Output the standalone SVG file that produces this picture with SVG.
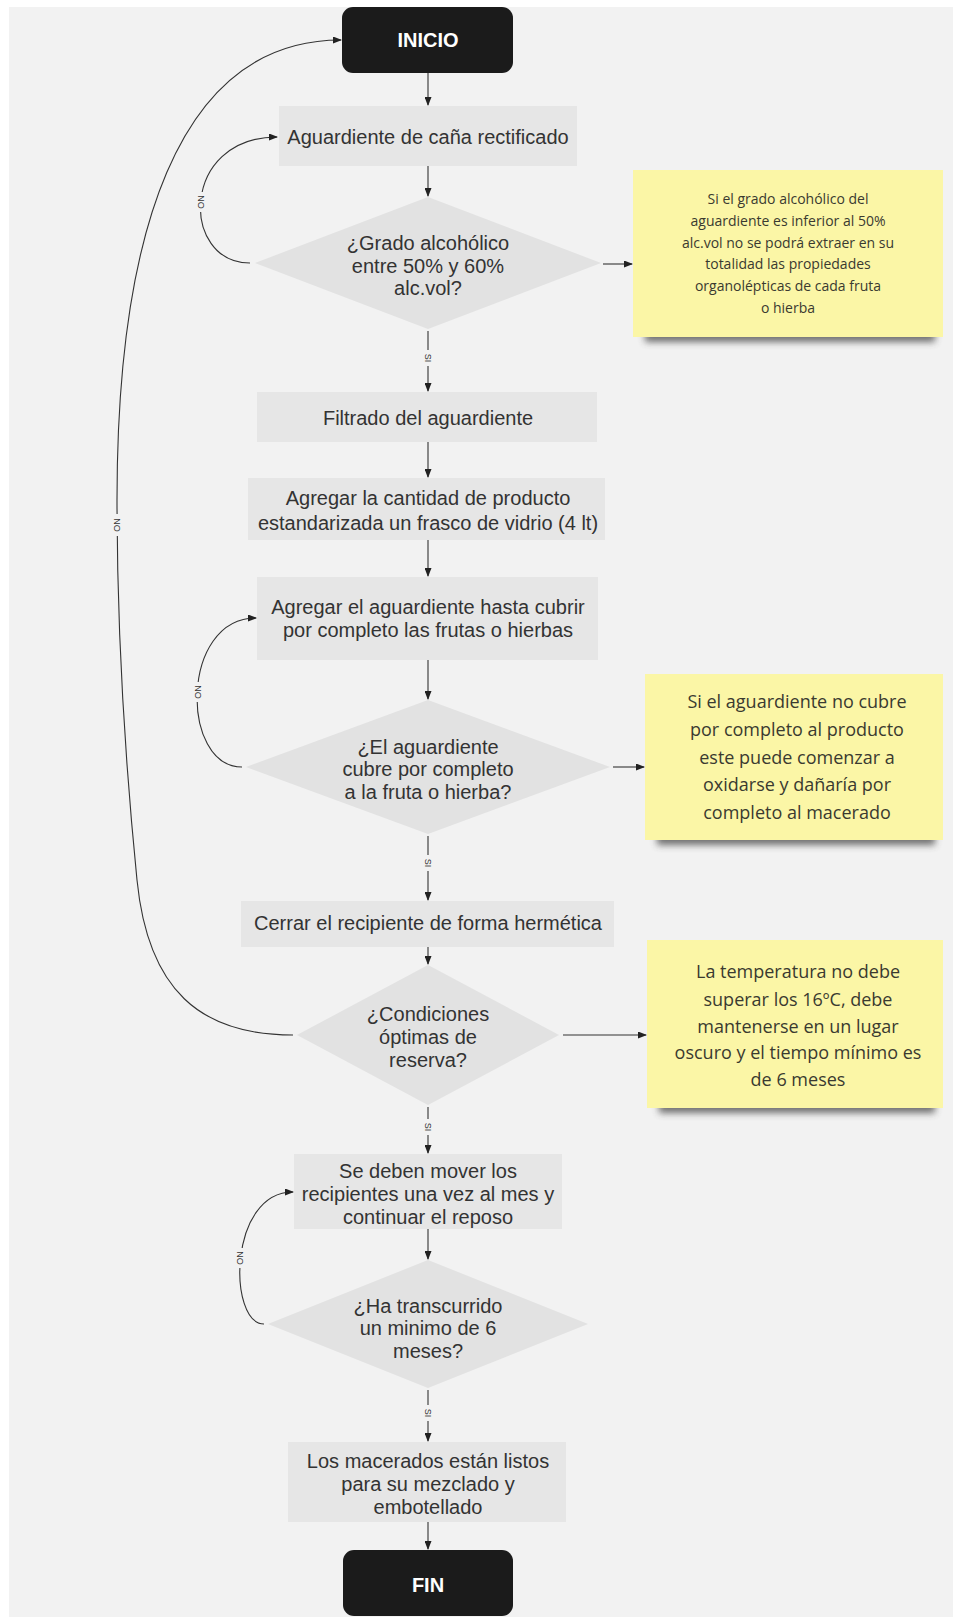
<svg xmlns="http://www.w3.org/2000/svg" width="953" height="1617" viewBox="0 0 953 1617">
<style>
.box{fill:#e6e6e6}
.dia{fill:#e2e2e2}
.term{fill:#1b1b1b}
.t{font-family:"Liberation Sans",Arial,sans-serif;font-size:20px;fill:#333;text-anchor:middle}
.tt{font-family:"Liberation Sans",Arial,sans-serif;font-size:20px;font-weight:bold;fill:#fff;text-anchor:middle}
.note{fill:#fbf6a6}
.nt{font-family:"Open Sans","Noto Sans",sans-serif;fill:#3a3a30;text-anchor:middle}
.c{fill:none;stroke:#333;stroke-width:1.1}
.lb{font-family:"Liberation Sans",Arial,sans-serif;font-size:9px;fill:#333;text-anchor:middle}
.lbg{fill:#f2f2f2}
.sh{fill:#444;opacity:0.75}
</style>
<defs>
<marker id="ah" markerWidth="9" markerHeight="7" refX="8" refY="3.5" orient="auto" markerUnits="userSpaceOnUse">
<path d="M0,0 L9,3.5 L0,7 z" fill="#222"/>
</marker>
<filter id="blur" x="-20%" y="-100%" width="140%" height="300%">
<feGaussianBlur stdDeviation="3.5"/>
</filter>
</defs>
<rect x="0" y="0" width="953" height="1617" fill="#ffffff"/>
<rect x="9" y="7" width="944" height="1610" fill="#f2f2f2"/>

<g id="connectors">
<line class="c" x1="428" y1="73" x2="428" y2="105" marker-end="url(#ah)"/>
<line class="c" x1="428" y1="166" x2="428" y2="196" marker-end="url(#ah)"/>
<line class="c" x1="603" y1="264" x2="632" y2="264" marker-end="url(#ah)"/>
<path class="c" d="M250 263 C180 263 180 137 277 137" marker-end="url(#ah)"/>
<line class="c" x1="428" y1="331" x2="428" y2="391" marker-end="url(#ah)"/>
<line class="c" x1="428" y1="442" x2="428" y2="477" marker-end="url(#ah)"/>
<line class="c" x1="428" y1="540" x2="428" y2="576" marker-end="url(#ah)"/>
<line class="c" x1="428" y1="660" x2="428" y2="699" marker-end="url(#ah)"/>
<line class="c" x1="613" y1="767" x2="644" y2="767" marker-end="url(#ah)"/>
<path class="c" d="M242 767 C180 767 180 618 256 618" marker-end="url(#ah)"/>
<line class="c" x1="428" y1="836" x2="428" y2="900" marker-end="url(#ah)"/>
<line class="c" x1="428" y1="947" x2="428" y2="964" marker-end="url(#ah)"/>
<line class="c" x1="563" y1="1035" x2="646" y2="1035" marker-end="url(#ah)"/>
<path class="c" d="M293 1035 C200 1035 148 990 137 880 C128 790 117 650 117 500 C117 240 175 40 341 40" marker-end="url(#ah)"/>
<line class="c" x1="428" y1="1107" x2="428" y2="1153" marker-end="url(#ah)"/>
<line class="c" x1="428" y1="1229" x2="428" y2="1259" marker-end="url(#ah)"/>
<path class="c" d="M264 1324 C228 1324 228 1192 293 1192" marker-end="url(#ah)"/>
<line class="c" x1="428" y1="1390" x2="428" y2="1441" marker-end="url(#ah)"/>
<line class="c" x1="428" y1="1522" x2="428" y2="1549" marker-end="url(#ah)"/>

<rect class="lbg" x="195" y="192" width="12" height="20"/>
<text class="lb" transform="translate(201,202) rotate(90)" y="3">NO</text>
<rect class="lbg" x="422" y="350" width="12" height="16"/>
<text class="lb" transform="translate(428,358) rotate(90)" y="3">SI</text>
<rect class="lbg" x="192" y="682" width="12" height="20"/>
<text class="lb" transform="translate(198,692) rotate(90)" y="3">NO</text>
<rect class="lbg" x="422" y="855" width="12" height="16"/>
<text class="lb" transform="translate(428,863) rotate(90)" y="3">SI</text>
<rect class="lbg" x="111" y="514" width="12" height="22"/>
<text class="lb" transform="translate(117,525) rotate(90)" y="3">NO</text>
<rect class="lbg" x="422" y="1119" width="12" height="16"/>
<text class="lb" transform="translate(428,1127) rotate(90)" y="3">SI</text>
<rect class="lbg" x="234" y="1248" width="12" height="20"/>
<text class="lb" transform="translate(240,1258) rotate(90)" y="3">NO</text>
<rect class="lbg" x="422" y="1405" width="12" height="16"/>
<text class="lb" transform="translate(428,1413) rotate(90)" y="3">SI</text>
</g>

<g id="inicio">
<rect class="term" x="342" y="7" width="171" height="66" rx="11"/>
<text class="tt" x="428" y="47">INICIO</text>
</g>

<g id="aguardiente">
<rect class="box" x="279" y="106" width="298" height="60"/>
<text class="t" x="428" y="144">Aguardiente de caña rectificado</text>
</g>

<g id="decision-grado">
<polygon class="dia" points="428,197 601,263 428,329 255,263"/>
<text class="t" x="428" y="250">¿Grado alcohólico</text>
<text class="t" x="428" y="273">entre 50% y 60%</text>
<text class="t" x="428" y="295">alc.vol?</text>
</g>

<g id="note-grado">
<rect class="sh" x="645" y="330" width="290" height="12" filter="url(#blur)"/>
<rect class="note" x="633" y="170" width="310" height="167"/>
<text class="nt" font-size="14" x="788" y="204">Si el grado alcohólico del</text>
<text class="nt" font-size="14" x="788" y="226">aguardiente es inferior al 50%</text>
<text class="nt" font-size="14" x="788" y="248">alc.vol no se podrá extraer en su</text>
<text class="nt" font-size="14" x="788" y="269">totalidad las propiedades</text>
<text class="nt" font-size="14" x="788" y="291">organolépticas de cada fruta</text>
<text class="nt" font-size="14" x="788" y="313">o hierba</text>
</g>

<g id="filtrado">
<rect class="box" x="257" y="392" width="340" height="50"/>
<text class="t" x="428" y="425">Filtrado del aguardiente</text>
</g>

<g id="agregar-producto">
<rect class="box" x="248" y="478" width="357" height="62"/>
<text class="t" x="428" y="505">Agregar la cantidad de producto</text>
<text class="t" x="428" y="530">estandarizada un frasco de vidrio (4 lt)</text>
</g>

<g id="agregar-aguardiente">
<rect class="box" x="257" y="577" width="341" height="83"/>
<text class="t" x="428" y="614">Agregar el aguardiente hasta cubrir</text>
<text class="t" x="428" y="637">por completo las frutas o hierbas</text>
</g>

<g id="decision-cubre">
<polygon class="dia" points="428,700 610,767 428,834 246,767"/>
<text class="t" x="428" y="754">¿El aguardiente</text>
<text class="t" x="428" y="776">cubre por completo</text>
<text class="t" x="428" y="799">a la fruta o hierba?</text>
</g>

<g id="note-cubre">
<rect class="sh" x="657" y="833" width="278" height="12" filter="url(#blur)"/>
<rect class="note" x="645" y="674" width="298" height="166"/>
<text class="nt" font-size="18" x="797" y="708">Si el aguardiente no cubre</text>
<text class="nt" font-size="18" x="797" y="736">por completo al producto</text>
<text class="nt" font-size="18" x="797" y="764">este puede comenzar a</text>
<text class="nt" font-size="18" x="797" y="791">oxidarse y dañaría por</text>
<text class="nt" font-size="18" x="797" y="819">completo al macerado</text>
</g>

<g id="cerrar">
<rect class="box" x="241" y="901" width="373" height="46"/>
<text class="t" x="428" y="930">Cerrar el recipiente de forma hermética</text>
</g>

<g id="decision-condiciones">
<polygon class="dia" points="428,965 559,1035 428,1105 297,1035"/>
<text class="t" x="428" y="1021">¿Condiciones</text>
<text class="t" x="428" y="1044">óptimas de</text>
<text class="t" x="428" y="1067">reserva?</text>
</g>

<g id="note-condiciones">
<rect class="sh" x="659" y="1101" width="276" height="12" filter="url(#blur)"/>
<rect class="note" x="647" y="940" width="296" height="168"/>
<text class="nt" font-size="18" x="798" y="978">La temperatura no debe</text>
<text class="nt" font-size="18" x="798" y="1006">superar los 16ºC, debe</text>
<text class="nt" font-size="18" x="798" y="1033">mantenerse en un lugar</text>
<text class="nt" font-size="18" x="798" y="1059">oscuro y el tiempo mínimo es</text>
<text class="nt" font-size="18" x="798" y="1086">de 6 meses</text>
</g>

<g id="mover">
<rect class="box" x="294" y="1154" width="268" height="75"/>
<text class="t" x="428" y="1178">Se deben mover los</text>
<text class="t" x="428" y="1201">recipientes una vez al mes y</text>
<text class="t" x="428" y="1224">continuar el reposo</text>
</g>

<g id="decision-meses">
<polygon class="dia" points="428,1260 588,1324 428,1388 268,1324"/>
<text class="t" x="428" y="1313">¿Ha transcurrido</text>
<text class="t" x="428" y="1335">un minimo de 6</text>
<text class="t" x="428" y="1358">meses?</text>
</g>

<g id="listos">
<rect class="box" x="288" y="1442" width="278" height="80"/>
<text class="t" x="428" y="1468">Los macerados están listos</text>
<text class="t" x="428" y="1491">para su mezclado y</text>
<text class="t" x="428" y="1514">embotellado</text>
</g>

<g id="fin">
<rect class="term" x="343" y="1550" width="170" height="66" rx="11"/>
<text class="tt" x="428" y="1592">FIN</text>
</g>
</svg>
